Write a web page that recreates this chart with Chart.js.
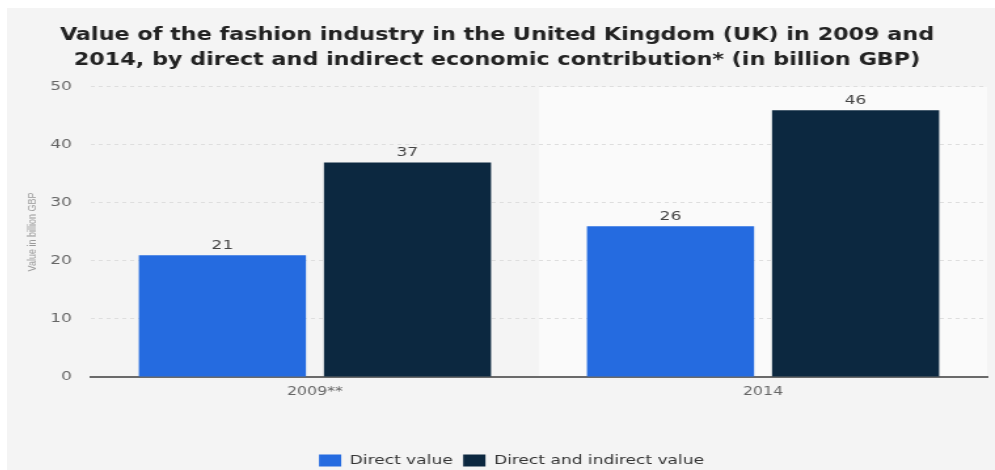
<!DOCTYPE html>
<html lang="en">
<head>
<meta charset="UTF-8">
<title>UK fashion industry value</title>
<script src="https://cdn.jsdelivr.net/npm/chart.js"></script>
<style>
    body {
        margin: 0;
        background: #ffffff;
        overflow: hidden;
        font-family: "DejaVu Sans", Arial, sans-serif;
    }
    .panel {
        position: absolute;
        left: 7px;
        top: 8px;
        width: 988px;
        height: 462px;
        background: #f4f4f4;
    }
    /* the chart is drawn narrow and stretched out sideways */
    #chart {
        transform: scaleX(1.3103);
        transform-origin: 0 0;
    }
</style>
</head>
<body>
<div class="panel">
    <canvas id="chart" width="754" height="469"></canvas>
</div>
<script>
    const years = ['2009**', '2014'];
    const directValue = [21, 26];
    const totalValue = [37, 46];
    const yTicks = [0, 10, 20, 30, 40, 50];

    // light band behind the second year group
    const bandPlugin = {
        id: 'band',
        beforeDraw(chart) {
            const { ctx, chartArea } = chart;
            const x = chart.scales.x;
            const left = (x.getPixelForValue(0) + x.getPixelForValue(1)) / 2;
            ctx.save();
            ctx.fillStyle = '#fafafa';
            ctx.fillRect(left, chartArea.top, chartArea.right - left, chartArea.bottom - chartArea.top);
            ctx.restore();
        }
    };

    // legend sits a little right of centre
    const legendShift = {
        id: 'legendShift',
        afterLayout(chart) {
            chart.legend.left += 11;
            chart.legend.right += 11;
        }
    };

    // value written above each bar
    const valueLabels = {
        id: 'valueLabels',
        afterDatasetsDraw(chart) {
            const ctx = chart.ctx;
            ctx.save();
            ctx.font = '13px "DejaVu Sans"';
            ctx.fillStyle = '#444';
            ctx.textAlign = 'center';
            ctx.textBaseline = 'bottom';
            chart.data.datasets.forEach((ds, i) => {
                chart.getDatasetMeta(i).data.forEach((bar, j) => {
                    ctx.fillText(ds.data[j], bar.x, bar.y - 3);
                });
            });
            ctx.restore();
        }
    };

    new Chart(document.getElementById('chart'), {
        type: 'bar',
        data: {
            labels: years,
            datasets: [{
                label: 'Direct value',
                data: directValue,
                backgroundColor: '#256be0'
            }, {
                label: 'Direct and indirect value',
                data: totalValue,
                backgroundColor: '#0c2840'
            }]
        },
        options: {
            responsive: false,
            animation: false,
            categoryPercentage: 0.826,
            barPercentage: 0.903,
            layout: { padding: { left: 0, right: 6, top: 0, bottom: 0 } },
            scales: {
                x: {
                    grid: { display: false, drawTicks: false },
                    border: { display: true, color: '#6a6a6a', width: 2 },
                    afterFit(scale) { scale.height = 69; },
                    ticks: { color: '#666', font: { size: 12, family: 'DejaVu Sans' }, padding: 8 }
                },
                y: {
                    min: 0,
                    max: 50,
                    afterBuildTicks(scale) {
                        scale.ticks = yTicks.map(v => ({ value: v }));
                    },
                    afterFit(scale) { scale.width = 64; },
                    grid: { color: '#dedede', drawTicks: false },
                    border: { display: false, dash: [3, 3] },
                    ticks: { color: '#666', font: { size: 13, family: 'DejaVu Sans' }, padding: 14.5 },
                    title: {
                        display: true,
                        text: 'Value in billion GBP',
                        color: '#999',
                        font: { size: 9, family: 'Liberation Sans' },
                        padding: { top: 14.4, bottom: 0 }
                    }
                }
            },
            plugins: {
                title: {
                    display: true,
                    text: ['Value of the fashion industry in the United Kingdom (UK) in 2009 and',
                           '2014, by direct and indirect economic contribution* (in billion GBP)'],
                    color: '#222',
                    font: { size: 17, weight: 'bold', family: 'DejaVu Sans', lineHeight: 1.47 },
                    padding: { top: 15, bottom: 14 }
                },
                legend: {
                    position: 'bottom',
                    labels: {
                        boxWidth: 17,
                        boxHeight: 12,
                        color: '#333',
                        font: { size: 13, family: 'DejaVu Sans' },
                        padding: 8
                    }
                },
                tooltip: { enabled: false }
            }
        },
        plugins: [bandPlugin, legendShift, valueLabels]
    });
</script>
</body>
</html>
